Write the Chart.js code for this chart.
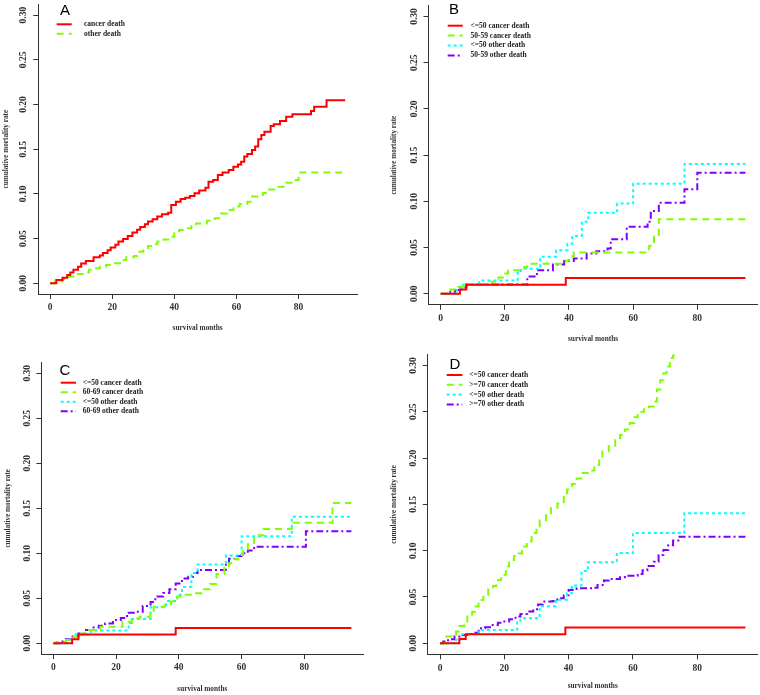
<!DOCTYPE html>
<html><head><meta charset="utf-8">
<script src="https://cdn.jsdelivr.net/npm/chart.js@4.4.1/dist/chart.umd.min.js"></script>
<style>
html,body{margin:0;padding:0;background:#fff;}
body{width:760px;height:695px;position:relative;overflow:hidden;}
canvas{position:absolute;}
</style></head><body>
<canvas id="cA" width="380" height="345" style="left:0;top:0;width:380px;height:345px"></canvas>
<canvas id="cB" width="380" height="345" style="left:380px;top:0;width:380px;height:345px"></canvas>
<canvas id="cC" width="380" height="355" style="left:0;top:340px;width:380px;height:355px"></canvas>
<canvas id="cD" width="380" height="355" style="left:380px;top:340px;width:380px;height:355px"></canvas>
<script>
// ---------- tick labels ----------
const xTicks = [0, 20, 40, 60, 80];
const yTicks = [0, 0.05, 0.10, 0.15, 0.20, 0.25, 0.30];

// ---------- Panel A ----------
const aCancerMonths = [0, 2, 4, 5.5, 6.5, 7.5, 9, 10, 11.5, 14, 16, 17, 18.5, 19.5, 21, 22, 23.5, 25, 26.5, 28, 29, 30.5, 31.5, 33, 34.5, 36, 38, 39, 40.5, 42, 43.5, 45, 46.5, 48, 50, 51, 52.5, 54, 55.5, 57.5, 59, 60.5, 61.5, 62.5, 63.5, 65, 66, 67, 68, 69, 71, 72, 74, 76, 78, 84, 85, 89, 95];
const aCancerRate = [0, 0.0037, 0.0063, 0.0093, 0.012, 0.015, 0.0186, 0.022, 0.025, 0.029, 0.031, 0.034, 0.037, 0.040, 0.043, 0.0466, 0.0496, 0.053, 0.0567, 0.060, 0.063, 0.066, 0.069, 0.0716, 0.0746, 0.0772, 0.079, 0.0876, 0.0913, 0.0943, 0.0958, 0.0977, 0.1007, 0.1037, 0.107, 0.1137, 0.1156, 0.121, 0.1238, 0.1268, 0.1305, 0.133, 0.136, 0.1417, 0.1447, 0.149, 0.153, 0.161, 0.166, 0.1696, 0.176, 0.1778, 0.1816, 0.1864, 0.189, 0.1928, 0.1976, 0.2047, 0.2047];
const aOtherMonths = [0, 1.5, 4, 6, 7.5, 10.5, 12.5, 14, 16, 18, 20.5, 22.5, 24.5, 27, 28, 30, 31.5, 32.5, 34.5, 36.5, 38.5, 40, 41.5, 43.5, 45.5, 47, 50.5, 53, 55, 57, 59, 61, 63.5, 65, 68.5, 70.5, 73, 75.5, 78.5, 80, 94];
const aOtherRate = [0, 0.0019, 0.0045, 0.0075, 0.0104, 0.012, 0.015, 0.0168, 0.0186, 0.0205, 0.0224, 0.026, 0.029, 0.0306, 0.0354, 0.038, 0.0418, 0.0436, 0.0466, 0.049, 0.052, 0.056, 0.0597, 0.0615, 0.064, 0.067, 0.070, 0.0727, 0.078, 0.082, 0.0858, 0.0887, 0.0913, 0.097, 0.101, 0.105, 0.108, 0.1126, 0.1156, 0.124, 0.124];

// ---------- <=50 group (panels B, C, D) ----------
const le50CancerMonths = [0, 6, 8, 39, 95];
const le50CancerRate = [0, 0.0045, 0.0098, 0.017, 0.017];
const le50OtherMonths = [0, 5, 6.5, 12, 24, 25, 31, 36, 39.5, 41, 44, 46, 55, 60, 76, 95];
const le50OtherRate = [0, 0.004, 0.0097, 0.0143, 0.0225, 0.027, 0.040, 0.047, 0.054, 0.0625, 0.078, 0.0875, 0.0975, 0.119, 0.1405, 0.1405];

// ---------- Panel B: 50-59 ----------
const b5059CancerMonths = [0, 3, 5.5, 8, 16, 18, 19.5, 21, 26, 27, 39, 40, 41.5, 65, 66.5, 68, 95];
const b5059CancerRate = [0, 0.0045, 0.0075, 0.0105, 0.013, 0.0175, 0.022, 0.0255, 0.029, 0.0325, 0.036, 0.0405, 0.0447, 0.052, 0.062, 0.0805, 0.0805];
const b5059OtherMonths = [0, 3, 4.5, 6, 8, 27, 30, 35, 38.5, 41.5, 45.5, 48.5, 52, 53, 58, 64.5, 65.5, 68, 76, 80, 95];
const b5059OtherRate = [0, 0.002, 0.004, 0.007, 0.01, 0.0185, 0.0255, 0.0315, 0.0355, 0.038, 0.0435, 0.046, 0.049, 0.059, 0.0725, 0.078, 0.0895, 0.0985, 0.113, 0.131, 0.131];

// ---------- Panel C: 60-69 ----------
const c6069CancerMonths = [0, 1, 4, 6.5, 9, 10.5, 15, 22, 25, 27.5, 31, 32, 35.5, 37.5, 39.5, 40.5, 45.5, 48, 50, 52, 54.5, 56, 57.5, 59, 60.5, 62, 64, 65.5, 67, 76, 89, 95];
const c6069CancerRate = [0, 0.0015, 0.0037, 0.0074, 0.011, 0.0148, 0.0185, 0.024, 0.0278, 0.0296, 0.033, 0.0407, 0.0426, 0.0465, 0.052, 0.054, 0.0556, 0.060, 0.066, 0.077, 0.084, 0.089, 0.0935, 0.098, 0.1045, 0.110, 0.117, 0.120, 0.127, 0.134, 0.156, 0.156];
const c6069OtherMonths = [0, 2, 4, 5.5, 8, 10, 12.5, 14.5, 16.5, 19, 21.5, 23.5, 26, 28.5, 31, 32.5, 35, 37, 39, 41, 43, 44.5, 46, 55, 56, 58, 60, 62, 64, 80.5, 95];
const c6069OtherRate = [0, 0.002, 0.0045, 0.0075, 0.011, 0.0148, 0.0175, 0.0195, 0.022, 0.026, 0.028, 0.034, 0.035, 0.0415, 0.046, 0.052, 0.056, 0.060, 0.0665, 0.072, 0.074, 0.078, 0.0815, 0.0895, 0.094, 0.097, 0.100, 0.103, 0.1074, 0.1245, 0.1245];

// ---------- Panel D: >=70 ----------
const d70CancerMonths = [0, 2, 3.5, 5, 6, 7.5, 8.5, 10, 11, 12, 13.5, 15, 16.5, 17.5, 19, 20.5, 21.5, 23, 24.5, 25.5, 27, 28.5, 30, 31, 33, 34.5, 36.5, 38.5, 39.5, 41, 42.5, 44, 46.5, 48, 49.5, 50.5, 52.5, 54.5, 56, 57.5, 59, 60.5, 61.5, 63.5, 65, 66.5, 67.5, 68.5, 69.5, 70.5, 71.5, 72.5, 74];
const d70CancerRate = [0, 0.0072, 0.0095, 0.0126, 0.0187, 0.0223, 0.029, 0.034, 0.0396, 0.0468, 0.052, 0.058, 0.062, 0.068, 0.074, 0.083, 0.090, 0.0943, 0.097, 0.1044, 0.110, 0.119, 0.126, 0.133, 0.1386, 0.146, 0.151, 0.160, 0.166, 0.172, 0.178, 0.184, 0.1865, 0.1925, 0.1998, 0.207, 0.213, 0.2196, 0.225, 0.231, 0.238, 0.244, 0.250, 0.2527, 0.2556, 0.261, 0.274, 0.284, 0.2916, 0.299, 0.308, 0.311, 0.311];
const d70OtherMonths = [0, 1, 2.5, 4.5, 6.5, 8.5, 10.5, 12, 14, 16, 18, 19.5, 21.5, 23.5, 25, 27, 29, 30.5, 32, 35, 36.5, 38.5, 40, 42.5, 47.5, 49, 51, 52.5, 56, 57.5, 61.5, 63, 64.5, 66.5, 68, 69.5, 71, 72.5, 74.5, 95];
const d70OtherRate = [0, 0.0018, 0.0043, 0.0072, 0.009, 0.010, 0.0115, 0.0162, 0.0173, 0.0198, 0.0223, 0.0234, 0.026, 0.0288, 0.0317, 0.0342, 0.0367, 0.042, 0.045, 0.0457, 0.0486, 0.052, 0.0576, 0.0594, 0.060, 0.063, 0.0677, 0.0695, 0.0713, 0.073, 0.0749, 0.079, 0.0835, 0.088, 0.0954, 0.1008, 0.106, 0.1109, 0.115, 0.115];

// ---------- legend labels ----------
const labelsA = ['cancer death', 'other death'];
const labelsB = ['<=50 cancer death', '50-59 cancer death', '<=50 other death', '50-59 other death'];
const labelsC = ['<=50 cancer death', '60-69 cancer death', '<=50 other death', '60-69 other death'];
const labelsD = ['<=50 cancer death', '>=70 cancer death', '<=50 other death', '>=70 other death'];

// ---------- styling ----------
const SERIF = '"Liberation Serif", "Times New Roman", serif';
const STYLES = [
  {color: '#FF0000', dash: []},
  {color: '#80FF00', dash: [7, 5]},
  {color: '#00FFFF', dash: [3, 3]},
  {color: '#8000FF', dash: [7, 3, 2, 3]}
];

function pts(m, r) { return m.map((x, i) => ({x: x, y: r[i]})); }

const rLegend = {
  id: 'rLegend',
  afterDraw(chart, args, o) {
    const ctx = chart.ctx;
    ctx.save();
    ctx.fillStyle = '#000';
    ctx.font = '15px "Liberation Sans", Arial, sans-serif';
    ctx.textAlign = 'center';
    ctx.textBaseline = 'middle';
    ctx.fillText(o.letter, o.lx, o.ly);
    ctx.font = 'bold 7.5px ' + SERIF;
    ctx.textAlign = 'left';
    ctx.fillStyle = '#222';
    chart.data.datasets.forEach((ds, i) => {
      const y = o.y0 + i * o.dy;
      ctx.strokeStyle = ds.borderColor;
      ctx.lineWidth = ds.borderWidth;
      ctx.setLineDash(ds.borderDash || []);
      ctx.beginPath();
      ctx.moveTo(o.x0, y);
      ctx.lineTo(o.x0 + o.len, y);
      ctx.stroke();
      ctx.setLineDash([]);
      ctx.fillText(ds.label, o.tx, y);
    });
    ctx.restore();
  }
};

function makeChart(id, series, labels, g) {
  const datasets = series.map((s, i) => ({
    label: labels[i],
    data: pts(s[0], s[1]),
    borderColor: STYLES[s[2]].color,
    borderDash: STYLES[s[2]].dash,
    borderWidth: 2,
    borderCapStyle: 'butt',
    stepped: true,
    pointRadius: 0,
    fill: false,
    tension: 0
  }));
  const axisCommon = {
    grid: {display: true, drawOnChartArea: false, drawTicks: true, tickLength: 5, color: '#333', lineWidth: 1},
    border: {display: true, color: '#333', width: 1}
  };
  return new Chart(document.getElementById(id), {
    type: 'line',
    data: {datasets: datasets},
    options: {
      responsive: false,
      animation: false,
      events: [],
      layout: {padding: g.pad},
      plugins: {legend: {display: false}, tooltip: {enabled: false}, rLegend: g.leg},
      scales: {
        x: Object.assign({
          type: 'linear', min: -3.8, max: 98.8,
          afterBuildTicks: s => { s.ticks = xTicks.map(v => ({value: v})); },
          afterFit: s => { s.height = g.xh; s.paddingLeft = 0; s.paddingRight = 0; s.paddingTop = 0; s.paddingBottom = 0; },
          ticks: {font: {family: SERIF, size: 9.5, weight: 'bold'}, color: '#333', padding: 3, maxRotation: 0, autoSkip: false, callback: v => String(v)},
          title: {display: true, text: 'survival months', font: {family: SERIF, size: 7.3, weight: 'bold'}, color: '#333', padding: {top: 0, bottom: g.xtb}}
        }, axisCommon),
        y: Object.assign({
          type: 'linear', min: -0.012, max: 0.312,
          afterBuildTicks: s => { s.ticks = yTicks.map(v => ({value: v})); },
          afterFit: s => { s.width = g.yw; s.paddingLeft = 0; s.paddingRight = 0; s.paddingTop = 0; s.paddingBottom = 0; },
          ticks: {font: {family: SERIF, size: 9.5, weight: 'bold'}, color: '#333', padding: 1, minRotation: 90, maxRotation: 90, crossAlign: 'center', autoSkip: false, callback: v => v.toFixed(2)},
          title: {display: true, text: 'cumulative mortality rate', font: {family: SERIF, size: 7.2, weight: 'bold'}, color: '#333', padding: {top: 0, bottom: 0}}
        }, axisCommon)
      }
    },
    plugins: [rLegend]
  });
}

makeChart('cA',
  [[aCancerMonths, aCancerRate, 0], [aOtherMonths, aOtherRate, 1]],
  labelsA,
  {pad: {left: 2.3, top: 4.4, right: 23, bottom: 11}, yw: 36, xh: 40, xtb: 1.2,
   leg: {letter: 'A', lx: 65, ly: 10.5, x0: 56.7, len: 15, tx: 84, y0: 24.3, dy: 9.4}});

makeChart('cB',
  [[le50CancerMonths, le50CancerRate, 0], [b5059CancerMonths, b5059CancerRate, 1], [le50OtherMonths, le50OtherRate, 2], [b5059OtherMonths, b5059OtherRate, 3]],
  labelsB,
  {pad: {left: 10.2, top: 5.4, right: 2.4, bottom: 0.2}, yw: 38.3, xh: 40, xtb: 1.7,
   leg: {letter: 'B', lx: 74, ly: 10, x0: 67.7, len: 15, tx: 90.5, y0: 25.7, dy: 9.9}});

makeChart('cC',
  [[le50CancerMonths, le50CancerRate, 0], [c6069CancerMonths, c6069CancerRate, 1], [le50OtherMonths, le50OtherRate, 2], [c6069OtherMonths, c6069OtherRate, 3]],
  labelsC,
  {pad: {left: 4.2, top: 22.5, right: 16.7, bottom: 0.9}, yw: 37.2, xh: 40, xtb: 1,
   leg: {letter: 'C', lx: 65, ly: 30.5, x0: 60.7, len: 15.3, tx: 82.7, y0: 42.7, dy: 9.55}});

makeChart('cD',
  [[le50CancerMonths, le50CancerRate, 0], [d70CancerMonths, d70CancerRate, 1], [le50OtherMonths, le50OtherRate, 2], [d70OtherMonths, d70OtherRate, 3]],
  labelsD,
  {pad: {left: 10.2, top: 14.4, right: 2.4, bottom: 4.6}, yw: 37.6, xh: 36, xtb: 0.3,
   leg: {letter: 'D', lx: 75, ly: 24.5, x0: 66.7, len: 15.6, tx: 89.3, y0: 35, dy: 9.8}});
</script>
</body></html>
